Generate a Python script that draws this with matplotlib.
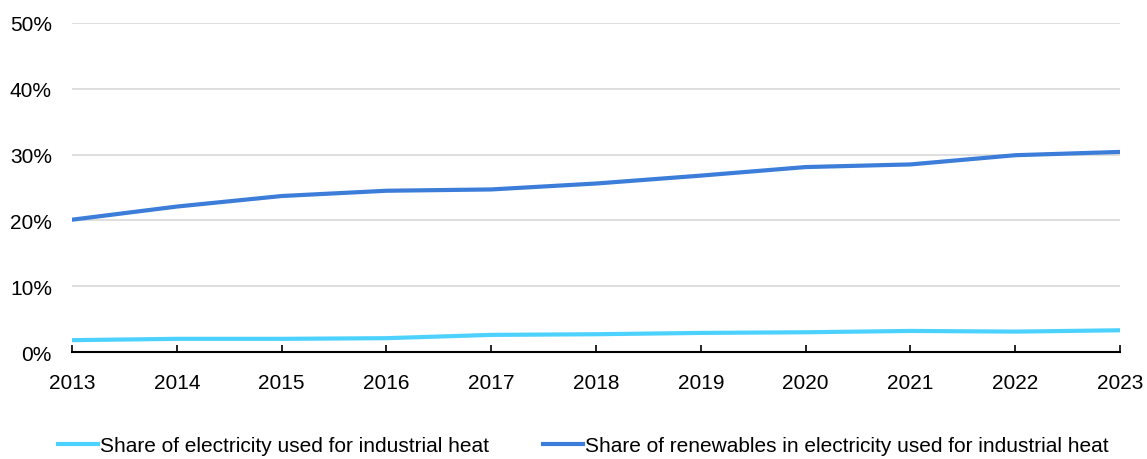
import matplotlib
matplotlib.use('Agg')
import matplotlib.pyplot as plt
from matplotlib.ticker import FuncFormatter

plt.rcParams['font.family'] = ['Liberation Sans', 'DejaVu Sans']

# Data
years = [2013, 2014, 2015, 2016, 2017, 2018, 2019, 2020, 2021, 2022, 2023]
share_elec = [1.8, 2.0, 2.0, 2.1, 2.6, 2.7, 2.9, 3.0, 3.2, 3.1, 3.3]
share_renew = [20.1, 22.1, 23.7, 24.5, 24.7, 25.6, 26.8, 28.1, 28.5, 29.9, 30.4]
labels = ["Share of electricity used for industrial heat",
          "Share of renewables in electricity used for industrial heat"]

fig = plt.figure(figsize=(11.47, 4.6), dpi=100)
ax = fig.add_axes([0.0628, 0.2326, 0.9137, 0.7154])

ax.plot(years, share_elec, color='#4dd2ff', lw=3, label=labels[0])
ax.plot(years, share_renew, color='#3c7dd9', lw=3, label=labels[1])

ax.set_xlim(2013, 2023)
ax.set_ylim(0, 50)
ax.set_xticks(years)
ax.set_yticks(range(0, 51, 10))
ax.yaxis.set_major_formatter(FuncFormatter(lambda v, p: "%d%%" % v))
ax.grid(axis='y', color='#d9d9d9', lw=1.2)
ax.set_axisbelow(True)

for s in ['left', 'right', 'top']:
    ax.spines[s].set_visible(False)
ax.spines['bottom'].set_linewidth(1.5)
ax.spines['bottom'].set_color('black')
ax.tick_params(axis='y', length=0, labelsize=15, pad=14.5)
ax.tick_params(axis='x', direction='in', length=5, width=1.2, labelsize=15, pad=15)

ax.legend(loc='lower center', bbox_to_anchor=(0.488, -0.37), ncol=2, frameon=False,
          fontsize=15, handlelength=1.9, handletextpad=0.1, columnspacing=2.6)

fig.savefig("out.png", dpi=100)
